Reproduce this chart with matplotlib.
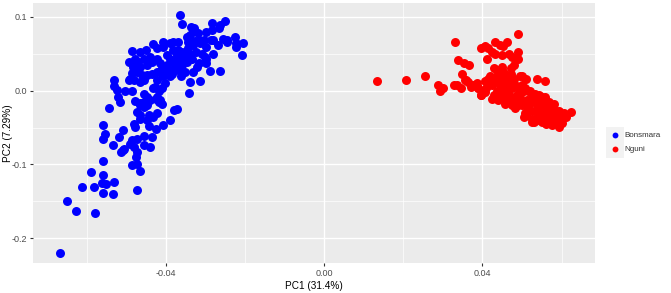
import matplotlib
matplotlib.use("Agg")
import matplotlib.pyplot as plt
from matplotlib.patches import Rectangle

plt.rcParams["font.family"] = ["Liberation Sans", "DejaVu Sans"]

# PC scores
bons_pc1 = [
    -0.0364, -0.0360, -0.0336, -0.0329, -0.0331, -0.0320, -0.0300, -0.0283, -0.0265, -0.0267,
    -0.0252, -0.0285, -0.0225, -0.0205, -0.0209, -0.0223, -0.0223, -0.0247, -0.0256, -0.0245,
    -0.0268, -0.0281, -0.0287, -0.0304, -0.0318, -0.0327, -0.0344, -0.0340, -0.0348, -0.0298,
    -0.0281, -0.0301, -0.0289, -0.0264, -0.0314, -0.0343, -0.0340, -0.0352, -0.0298, -0.0298,
    -0.0317, -0.0310, -0.0325, -0.0340, -0.0352, -0.0365, -0.0373, -0.0382, -0.0390, -0.0403,
    -0.0410, -0.0423, -0.0390, -0.0398, -0.0411, -0.0423, -0.0436, -0.0449, -0.0465, -0.0455,
    -0.0482, -0.0491, -0.0373, -0.0361, -0.0382, -0.0390, -0.0383, -0.0369, -0.0408, -0.0407,
    -0.0423, -0.0432, -0.0450, -0.0465, -0.0486, -0.0478, -0.0495, -0.0485, -0.0465, -0.0449,
    -0.0436, -0.0423, -0.0415, -0.0440, -0.0457, -0.0470, -0.0474, -0.0461, -0.0486, -0.0495,
    -0.0532, -0.0533, -0.0524, -0.0522, -0.0516, -0.0503, -0.0486, -0.0455, -0.0428, -0.0419,
    -0.0425, -0.0415, -0.0480, -0.0465, -0.0457, -0.0449, -0.0467, -0.0457, -0.0474, -0.0465,
    -0.0444, -0.0432, -0.0423, -0.0449, -0.0482, -0.0478, -0.0465, -0.0444, -0.0425, -0.0408,
    -0.0390, -0.0380, -0.0373, -0.0436, -0.0457, -0.0474, -0.0486, -0.0491, -0.0482, -0.0474,
    -0.0475, -0.0486, -0.0474, -0.0465, -0.0474, -0.0455, -0.0440, -0.0506, -0.0514, -0.0509,
    -0.0535, -0.0519, -0.0509, -0.0554, -0.0559, -0.0560, -0.0545, -0.0559, -0.0559, -0.0562,
    -0.0551, -0.0559, -0.0531, -0.0535, -0.0590, -0.0582, -0.0614, -0.0650, -0.0627, -0.0579,
    -0.0668, -0.0398, -0.0386, -0.0377, -0.0361, -0.0348, -0.0335, -0.0323, -0.0331, -0.0363,
    -0.0407, -0.0423, -0.0432, -0.0419, -0.0411, -0.0440, -0.0449, -0.0397, -0.0386, -0.0369,
    -0.0358, -0.0369, -0.0344, -0.0331, -0.0314,
]
bons_pc2 = [
    0.102, 0.090, 0.086, 0.085, 0.081, 0.078, 0.079, 0.091, 0.088, 0.085,
    0.094, 0.082, 0.073, 0.064, 0.048, 0.064, 0.059, 0.069, 0.070, 0.066,
    0.062, 0.068, 0.069, 0.068, 0.068, 0.067, 0.066, 0.075, 0.072, 0.059,
    0.050, 0.046, 0.027, 0.027, 0.013, -0.003, 0.012, 0.025, 0.043, 0.037,
    0.037, 0.050, 0.052, 0.050, 0.043, 0.039, 0.032, 0.028, 0.019, 0.010,
    0.003, -0.009, 0.043, 0.034, 0.030, 0.025, 0.023, 0.021, 0.012, 0.014,
    0.014, 0.016, 0.048, 0.052, 0.055, 0.064, 0.065, 0.065, 0.066, 0.059,
    0.057, 0.063, 0.055, 0.052, 0.054, 0.043, 0.039, 0.032, 0.032, 0.034,
    0.039, 0.043, 0.037, 0.046, 0.043, 0.039, 0.025, 0.021, 0.024, 0.014,
    0.014, 0.006, 0.001, -0.009, -0.015, -0.000, 0.000, -0.004, 0.005, 0.000,
    -0.011, -0.013, -0.014, -0.020, -0.022, -0.020, -0.017, -0.015, -0.029, -0.033,
    -0.033, -0.036, -0.031, -0.040, -0.045, -0.049, -0.038, -0.048, -0.052, -0.047,
    -0.040, -0.026, -0.025, -0.063, -0.061, -0.065, -0.067, -0.072, -0.076, -0.083,
    -0.090, -0.101, -0.099, -0.109, -0.134, -0.074, -0.076, -0.079, -0.083, -0.081,
    -0.074, -0.063, -0.054, -0.059, -0.066, -0.047, -0.024, -0.095, -0.114, -0.125,
    -0.127, -0.138, -0.124, -0.140, -0.110, -0.131, -0.130, -0.150, -0.163, -0.165,
    -0.220, 0.048, 0.039, 0.041, 0.034, 0.039, 0.043, 0.032, 0.025, 0.019,
    0.019, 0.014, 0.003, -0.015, -0.018, -0.013, -0.009, 0.027, 0.023, 0.028,
    0.048, 0.055, 0.057, 0.062, 0.064,
]

nguni_pc1 = [
    0.0133, 0.0206, 0.0254, 0.0287, 0.0293, 0.0301, 0.0327, 0.0335, 0.0346, 0.0331,
    0.0339, 0.0353, 0.0365, 0.0347, 0.0355, 0.0363, 0.0376, 0.0389, 0.0395, 0.0402,
    0.0397, 0.0407, 0.0414, 0.0432, 0.0444, 0.0453, 0.0463, 0.0423, 0.0432, 0.0449,
    0.0412, 0.0466, 0.0474, 0.0489, 0.0489, 0.0490, 0.0429, 0.0436, 0.0449, 0.0471,
    0.0472, 0.0414, 0.0406, 0.0436, 0.0537, 0.0557, 0.0496, 0.0550, 0.0625, 0.0593,
    0.0526, 0.0511, 0.0602,
    0.0423, 0.0449, 0.0474, 0.0500, 0.0521, 0.0542, 0.0568, 0.0593, 0.0606,
    0.0397, 0.0423, 0.0457, 0.0483, 0.0508, 0.0525, 0.0551, 0.0576, 0.0593,
    0.0410, 0.0436, 0.0461, 0.0487, 0.0512, 0.0538, 0.0564, 0.0585,
    0.0449, 0.0474, 0.0500, 0.0525, 0.0551, 0.0576,
    0.0423, 0.0449, 0.0474, 0.0500, 0.0525, 0.0551, 0.0576, 0.0598,
    0.0436, 0.0461, 0.0487, 0.0512, 0.0538, 0.0564, 0.0589,
    0.0406, 0.0432, 0.0457, 0.0483, 0.0508, 0.0534, 0.0559, 0.0581,
    0.0534, 0.0559, 0.0585, 0.0542, 0.0568, 0.0504, 0.0474, 0.0440, 0.0389, 0.0380,
    0.0359, 0.0372, 0.0385,
    0.0415, 0.0445, 0.0465, 0.0490, 0.0515, 0.0530, 0.0555, 0.0570, 0.0595, 0.0610,
    0.0430, 0.0450, 0.0470, 0.0495, 0.0520, 0.0545, 0.0570, 0.0580, 0.0600, 0.0560,
    0.0460, 0.0490, 0.0515, 0.0540, 0.0530, 0.0555, 0.0480, 0.0465, 0.0455, 0.0440,
    0.0450, 0.0480, 0.0500, 0.0510, 0.0420,
]
nguni_pc2 = [
    0.0127, 0.0136, 0.020, 0.007, 0.000, 0.004, 0.007, 0.007, 0.003, 0.065,
    0.041, 0.037, 0.034, 0.023, 0.014, 0.012, 0.007, 0.003, -0.006, -0.002,
    0.057, 0.060, 0.057, 0.065, 0.062, 0.060, 0.065, 0.052, 0.050, 0.048,
    0.043, 0.050, 0.045, 0.052, 0.043, 0.076, 0.030, 0.028, 0.028, 0.030,
    0.022, 0.016, 0.013, 0.018, 0.016, 0.013, 0.019, -0.009, -0.029, -0.049,
    -0.042, -0.033, -0.037,
    0.012, 0.014, 0.012, 0.007, 0.000, -0.006, -0.015, -0.027, -0.031,
    -0.006, -0.011, -0.018, -0.024, -0.031, -0.038, -0.043, -0.047, -0.047,
    0.003, 0.000, -0.002, -0.006, -0.013, -0.020, -0.027, -0.033,
    -0.009, -0.013, -0.020, -0.027, -0.033, -0.038,
    0.007, 0.005, 0.003, -0.002, -0.006, -0.013, -0.022, -0.040,
    -0.004, -0.011, -0.015, -0.022, -0.029, -0.033, -0.040,
    -0.002, 0.012, 0.010, 0.007, 0.003, -0.004, -0.009, -0.018,
    -0.013, -0.020, -0.027, -0.040, -0.043, -0.036, -0.020, -0.013, 0.003, 0.008,
    0.014, 0.005, 0.010,
    0.008, 0.009, 0.007, 0.004, -0.001, -0.009, -0.017, -0.024, -0.035, -0.036,
    -0.006, -0.004, -0.008, -0.010, -0.017, -0.024, -0.030, -0.043, -0.044, -0.045,
    -0.015, -0.020, -0.027, -0.034, -0.042, -0.038, 0.015, 0.020, 0.024, 0.022,
    0.032, 0.034, 0.020, 0.015, 0.020,
]

x_ticks = [-0.04, 0.00, 0.04]
x_ticklabels = ["-0.04", "0.00", "0.04"]
y_ticks = [0.1, 0.0, -0.1, -0.2]
y_ticklabels = ["0.1", "0.0", "-0.1", "-0.2"]

fig = plt.figure(figsize=(6.71, 2.93), dpi=100)
ax = fig.add_axes([0.049, 0.102, 0.838, 0.888])
ax.set_facecolor("#EBEBEB")

ax.scatter(bons_pc1, bons_pc2, s=42, color="#0000FF", linewidths=0, label="Bonsmara", zorder=3)
ax.scatter(nguni_pc1, nguni_pc2, s=42, color="#FF0000", linewidths=0, label="Nguni", zorder=3)

ax.set_xlim(-0.0737, 0.0685)
ax.set_ylim(-0.2334, 0.1185)

ax.set_xticks(x_ticks)
ax.set_xticklabels(x_ticklabels)
ax.set_yticks(y_ticks)
ax.set_yticklabels(y_ticklabels)
ax.set_xticks([-0.06, -0.02, 0.02, 0.06], minor=True)
ax.set_yticks([0.05, -0.05, -0.15], minor=True)
ax.grid(True, which="major", color="white", linewidth=1.0, zorder=0)
ax.grid(True, which="minor", color="white", linewidth=0.5, zorder=0)
ax.set_axisbelow(True)
ax.tick_params(which="major", length=2.5, width=0.8, color="#333333",
               labelsize=6.5, labelcolor="#4D4D4D", pad=2)
ax.tick_params(which="minor", length=0)
for sp in ax.spines.values():
    sp.set_visible(False)

ax.set_xlabel("PC1 (31.4%)", fontsize=7.2, labelpad=2)
ax.set_ylabel("PC2 (7.29%)", fontsize=7.2)
ax.yaxis.set_label_coords(-0.035, 0.5)

# legend keys with grey background like ggplot
for yk in (0.539, 0.488):
    fig.patches.append(Rectangle((0.903, yk - 0.026), 0.027, 0.052, transform=fig.transFigure,
                                 facecolor="#F2F2F2", edgecolor="none"))
leg = fig.legend(loc="center left", bbox_to_anchor=(0.899, 0.514), frameon=False,
                 fontsize=5.8, handletextpad=0.2, labelspacing=0.75, markerscale=0.65,
                 borderaxespad=0)
for t in leg.get_texts():
    t.set_color("#333333")

fig.savefig("out.png", dpi=100)
